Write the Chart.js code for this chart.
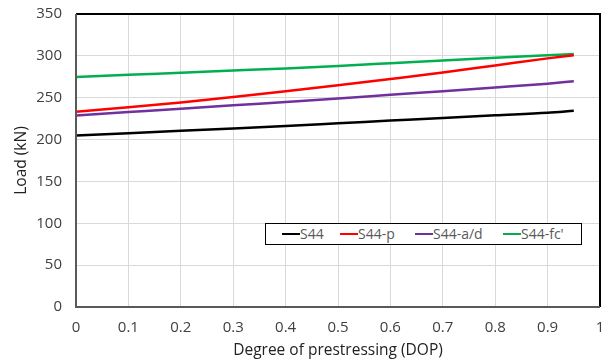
<!DOCTYPE html>
<html>
<head>
<meta charset="utf-8">
<script src="https://cdn.jsdelivr.net/npm/chart.js@4"></script>
<style>
  html, body { margin: 0; padding: 0; background: #fff; }
  #wrap { position: relative; width: 610px; height: 360px; }
  #legend {
    position: absolute; left: 265px; top: 223px; width: 317px; height: 22px;
    border: 1.5px solid #000; background: #fff; box-sizing: border-box;
    font: 14px "Open Sans", sans-serif; color: #595959;
  }
  #legend .item { position: absolute; top: 0px; white-space: nowrap; }
  #legend .swatch { display: inline-block; width: 18px; height: 2px; vertical-align: middle; position: relative; top: -1px; }
</style>
</head>
<body>
<div id="wrap">
  <canvas id="chart" width="610" height="360"></canvas>
  <div id="legend"></div>
</div>
<script>
"use strict";

// Degree of prestressing sampled along each curve
const dop = [0, 0.1, 0.2, 0.3, 0.4, 0.5, 0.6, 0.7, 0.8, 0.9, 0.95];

const s44    = [204.9, 207.6, 210.4, 213.3, 216.3, 219.5, 222.7, 225.9, 229, 232, 234.3];
const s44p   = [233.2, 238.6, 244.4, 250.8, 257.6, 264.8, 272.4, 280.2, 288.6, 297, 300.8];
const s44ad  = [228.8, 232.8, 236.8, 240.9, 244.9, 249, 253.5, 257.8, 262.2, 266.8, 269.6];
const s44fc  = [274.6, 277.3, 279.8, 282.4, 285, 287.9, 291.2, 294.6, 297.8, 300.7, 302.2];

const seriesNames = ["S44", "S44-p", "S44-a/d", "S44-fc'"];
const seriesColors = ["#000000", "#ff0000", "#7030a0", "#00b050"];
const legendLeft = [16, 74, 149, 237];

const allSeries = [s44, s44p, s44ad, s44fc];

const FONT = "'Open Sans', sans-serif";
const tickColor = "#404040";
const gridColor = "#d9d9d9";

// frame: dark grey left/bottom axis, black top/right edge
const framePlugin = {
  id: "frame",
  afterDraw(chart) {
    const { ctx, chartArea: a } = chart;
    ctx.save();
    ctx.lineWidth = 2;
    ctx.strokeStyle = "#000";
    ctx.beginPath();
    ctx.moveTo(a.left, a.top);
    ctx.lineTo(a.right, a.top);
    ctx.lineTo(a.right, a.bottom);
    ctx.stroke();
    ctx.strokeStyle = "#595959";
    ctx.beginPath();
    ctx.moveTo(a.left, a.top);
    ctx.lineTo(a.left, a.bottom);
    ctx.lineTo(a.right, a.bottom);
    ctx.stroke();
    ctx.restore();
  },
};

new Chart(document.getElementById("chart"), {
  type: "line",
  data: {
    datasets: allSeries.map((vals, i) => ({
      label: seriesNames[i],
      data: dop.map((x, j) => ({ x, y: vals[j] })),
      borderColor: seriesColors[i],
      backgroundColor: seriesColors[i],
      borderWidth: 2.5,
      pointRadius: 0,
      cubicInterpolationMode: "monotone",
      fill: false,
    })),
  },
  options: {
    responsive: false,
    animation: false,
    layout: { padding: { left: 0, right: 10, top: 14, bottom: 0 } },
    plugins: { legend: { display: false }, tooltip: { enabled: false } },
    scales: {
      x: {
        type: "linear",
        min: 0,
        max: 1,
        ticks: {
          stepSize: 0.1,
          color: tickColor,
          padding: 0,
          font: { family: FONT, size: 15 },
          callback: (v) => String(Math.round(v * 10) / 10),
        },
        grid: { color: gridColor, tickColor: "rgba(0,0,0,0)", tickLength: 12 },
        border: { display: false },
        title: {
          display: true,
          text: "Degree of prestressing (DOP)",
          color: "#222",
          font: { family: FONT, size: 15.5 },
          padding: { top: 0, bottom: 0 },
        },
        afterFit: (s) => { s.height = 53; },
      },
      y: {
        min: 0,
        max: 350,
        ticks: {
          stepSize: 50,
          color: tickColor,
          padding: 0,
          font: { family: FONT, size: 15 },
        },
        grid: { color: gridColor, tickColor: "rgba(0,0,0,0)", tickLength: 14 },
        border: { display: false },
        title: {
          display: true,
          text: "Load (kN)",
          color: "#222",
          font: { family: FONT, size: 15.5 },
          padding: { top: 12, bottom: 0 },
        },
        afterFit: (s) => { s.width = 76; },
      },
    },
  },
  plugins: [framePlugin],
});

const legend = document.getElementById("legend");
seriesNames.forEach((name, i) => {
  const item = document.createElement("span");
  item.className = "item";
  item.style.left = legendLeft[i] + "px";
  const sw = document.createElement("span");
  sw.className = "swatch";
  sw.style.background = seriesColors[i];
  item.appendChild(sw);
  item.appendChild(document.createTextNode(name));
  legend.appendChild(item);
});
</script>
</body>
</html>
